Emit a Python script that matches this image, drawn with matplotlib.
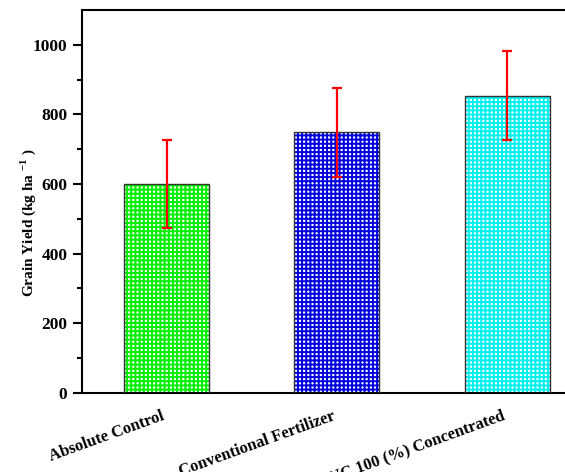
import matplotlib
matplotlib.use('Agg')
import matplotlib.pyplot as plt

# treatments and grain yield (kg/ha) with error
treatments = ['Absolute Control', 'Conventional Fertilizer', 'MNC 100 (%) Concentrated']
grain_yield = [600, 748, 854]
yield_err = [127, 127, 128]
bar_colors = ['#00ee00', '#0000dd', '#00f0f0']

plt.rcParams['font.family'] = 'Liberation Serif'
plt.rcParams['font.weight'] = 'bold'
plt.rcParams['mathtext.fontset'] = 'custom'
plt.rcParams['mathtext.rm'] = 'Liberation Serif:bold'
plt.rcParams['mathtext.bf'] = 'Liberation Serif:bold'
plt.rcParams['hatch.linewidth'] = 1.4

fig = plt.figure(figsize=(5.65, 4.72), dpi=100)
ax = fig.add_axes([0.1451, 0.168, 0.9027, 0.8108])

x = [1, 2, 3]

# hatched fill (white dots on colour) then dark outline
for xi, val, col in zip(x, grain_yield, bar_colors):
    ax.bar(xi, val, width=0.5, facecolor='white', edgecolor=col,
           hatch='++++', linewidth=0, zorder=2)
ax.bar(x, grain_yield, width=0.5, fill=False, edgecolor='#333333',
       linewidth=1.0, zorder=3)

ax.errorbar(x, grain_yield, yerr=yield_err, fmt='none', ecolor='red',
            elinewidth=1.6, capsize=3.6, capthick=1.6, zorder=4)

ax.set_xlim(0.5, 3.5)
ax.set_ylim(0, 1100)
ax.set_yticks([0, 200, 400, 600, 800, 1000])
ax.set_yticks([100, 300, 500, 700, 900], minor=True)
ax.set_xticks(x)
ax.set_xticklabels(treatments, rotation=20, ha='right', fontsize=12,
                   fontweight='bold')

ax.tick_params(axis='y', which='major', length=6.5, width=1.5,
               labelsize=12.5, pad=4)
ax.tick_params(axis='y', which='minor', length=3.5, width=1.5)
ax.tick_params(axis='x', length=0, pad=11)

for s in ax.spines.values():
    s.set_linewidth(1.5)

fig.text(0.05, 0.527, r'Grain Yield (kg ha $^{-1}$ )', rotation=90,
         ha='center', va='center', fontsize=11, fontweight='bold')

fig.savefig('out.png', dpi=100)
